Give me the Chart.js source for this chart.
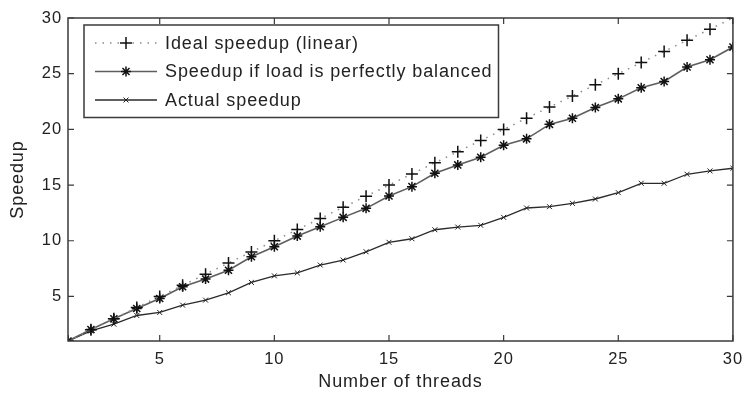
<!DOCTYPE html>
<html>
<head>
<meta charset="utf-8">
<script src="https://cdn.jsdelivr.net/npm/chart.js@4.4.0/dist/chart.umd.min.js"></script>
<style>
  html, body { margin: 0; padding: 0; background: #fff; }
</style>
</head>
<body>
<canvas id="speedupChart" width="752" height="394"></canvas>
<script>
const threads = [1, 2, 3, 4, 5, 6, 7, 8, 9, 10, 11, 12, 13, 14, 15,
  16, 17, 18, 19, 20, 21, 22, 23, 24, 25, 26, 27, 28, 29, 30];
const idealSpeedup = [1, 2, 3, 4, 5, 6, 7, 8, 9, 10, 11, 12, 13, 14, 15,
  16, 17, 18, 19, 20, 21, 22, 23, 24, 25, 26, 27, 28, 29, 30];
const balancedSpeedup = [1, 2.03, 2.99, 3.92, 4.82, 5.87, 6.56, 7.35, 8.56, 9.46,
  10.42, 11.26, 12.1, 12.91, 14.02, 14.86, 16.06, 16.81, 17.5, 18.58,
  19.15, 20.45, 21.0, 21.96, 22.74, 23.73, 24.3, 25.6, 26.25, 27.39];
const actualSpeedup = [1, 1.91, 2.51, 3.29, 3.56, 4.22, 4.67, 5.33, 6.26, 6.85,
  7.12, 7.82, 8.27, 9.01, 9.86, 10.18, 10.99, 11.23, 11.39, 12.1,
  12.94, 13.06, 13.36, 13.75, 14.32, 15.16, 15.16, 15.97, 16.27, 16.51];
const seriesLabels = ["Ideal speedup (linear)", "Speedup if load is perfectly balanced", "Actual speedup"];
const xTicks = [5, 10, 15, 20, 25, 30];
const yTicks = [5, 10, 15, 20, 25, 30];

const FONT = "'Liberation Sans', Arial, sans-serif";
const TEXT = "#222";
const SPACING = "0.9px";

function points(values) {
  return threads.map((t, i) => ({ x: t, y: values[i] }));
}

// slightly looser lettering for every text drawn on the canvas
const letterSpacing = {
  id: "letterSpacing",
  beforeUpdate(chart) { chart.ctx.letterSpacing = SPACING; },
  beforeDraw(chart) { chart.ctx.letterSpacing = SPACING; },
};

// box around the plot with inward tick marks on all four sides
const frameAndTicks = {
  id: "frameAndTicks",
  afterDatasetsDraw(chart) {
    const { ctx, chartArea: a, scales } = chart;
    ctx.save();
    ctx.strokeStyle = "#3a3a3a";
    ctx.lineWidth = 1.5;
    ctx.strokeRect(a.left, a.top, a.right - a.left, a.bottom - a.top);
    ctx.lineWidth = 1.2;
    ctx.beginPath();
    xTicks.forEach(v => {
      const px = scales.x.getPixelForValue(v);
      ctx.moveTo(px, a.bottom); ctx.lineTo(px, a.bottom - 6);
      ctx.moveTo(px, a.top); ctx.lineTo(px, a.top + 6);
    });
    yTicks.forEach(v => {
      const py = scales.y.getPixelForValue(v);
      ctx.moveTo(a.left, py); ctx.lineTo(a.left + 6, py);
      ctx.moveTo(a.right, py); ctx.lineTo(a.right - 6, py);
    });
    ctx.stroke();
    ctx.restore();
  }
};

// legend box in the upper left corner of the plot
const boxLegend = {
  id: "boxLegend",
  afterDraw(chart) {
    const { ctx, chartArea: a } = chart;
    const left = a.left + 16, top = a.top + 7;
    const lineX0 = left + 11, lineX1 = left + 73, textX = left + 81;
    const rowH = 28.5;
    ctx.save();
    ctx.letterSpacing = SPACING;
    ctx.font = "18px " + FONT;
    let maxW = 0;
    chart.data.datasets.forEach(ds => { maxW = Math.max(maxW, ctx.measureText(ds.label).width); });
    const w = textX - left + maxW + 6;
    const h = rowH * 3 + 7;
    ctx.fillStyle = "#fff";
    ctx.fillRect(left, top, w, h);
    ctx.strokeStyle = "#3a3a3a";
    ctx.lineWidth = 1.5;
    ctx.strokeRect(left, top, w, h);

    chart.data.datasets.forEach((ds, i) => {
      const y = top + 18 + i * rowH;
      ctx.save();
      ctx.strokeStyle = ds.borderColor;
      ctx.lineWidth = ds.borderWidth;
      ctx.setLineDash(ds.borderDash || []);
      ctx.beginPath();
      ctx.moveTo(lineX0, y); ctx.lineTo(lineX1, y);
      ctx.stroke();
      ctx.restore();
      ctx.strokeStyle = ds.pointBorderColor;
      ctx.fillStyle = ds.pointBorderColor;
      ctx.lineWidth = ds.pointBorderWidth;
      Chart.helpers.drawPoint(ctx, { pointStyle: ds.pointStyle, radius: ds.pointRadius, rotation: 0, borderWidth: ds.pointBorderWidth }, (lineX0 + lineX1) / 2, y);
      ctx.fillStyle = TEXT;
      ctx.textBaseline = "middle";
      ctx.fillText(ds.label, textX, y + 1);
    });
    ctx.restore();
  }
};

const ctx = document.getElementById("speedupChart").getContext("2d");

new Chart(ctx, {
  type: "line",
  data: {
    datasets: [
      {
        label: seriesLabels[0],
        data: points(idealSpeedup),
        borderColor: "#8a8a8a",
        borderWidth: 1.5,
        borderDash: [1.5, 6],
        pointStyle: "cross",
        pointRadius: 6,
        pointBorderWidth: 1.5,
        pointBorderColor: "#111",
      },
      {
        label: seriesLabels[1],
        data: points(balancedSpeedup),
        borderColor: "#5e5e5e",
        borderWidth: 1.6,
        pointStyle: "star",
        pointRadius: 5,
        pointBorderWidth: 1.5,
        pointBorderColor: "#111",
      },
      {
        label: seriesLabels[2],
        data: points(actualSpeedup),
        borderColor: "#2a2a2a",
        borderWidth: 1.3,
        pointStyle: "crossRot",
        pointRadius: 3.5,
        pointBorderWidth: 1,
        pointBorderColor: "#222",
      },
    ],
  },
  options: {
    responsive: false,
    animation: false,
    layout: { padding: { top: 18, right: 11, left: 0, bottom: 0 } },
    plugins: {
      legend: { display: false },
      tooltip: { enabled: false },
    },
    elements: { line: { tension: 0, fill: false } },
    scales: {
      x: {
        type: "linear",
        min: 1,
        max: 30,
        afterBuildTicks: s => { s.ticks = xTicks.map(v => ({ value: v })); },
        afterFit: s => { s.height = 53; },
        grid: { display: false, drawTicks: false },
        border: { display: false },
        ticks: { color: TEXT, font: { family: FONT, size: 16.5 }, padding: 9, maxRotation: 0 },
        title: { display: true, text: "Number of threads", color: TEXT, font: { family: FONT, size: 18 }, padding: { top: 0, bottom: 1 } },
      },
      y: {
        min: 1,
        max: 30,
        afterBuildTicks: s => { s.ticks = yTicks.map(v => ({ value: v })); },
        afterFit: s => { s.width = 68; },
        grid: { display: false, drawTicks: false },
        border: { display: false },
        ticks: { color: TEXT, font: { family: FONT, size: 16.5 }, padding: 6 },
        title: { display: true, text: "Speedup", color: TEXT, font: { family: FONT, size: 18 }, padding: { top: 7, bottom: 0 } },
      },
    },
  },
  plugins: [letterSpacing, frameAndTicks, boxLegend],
});
</script>
</body>
</html>
